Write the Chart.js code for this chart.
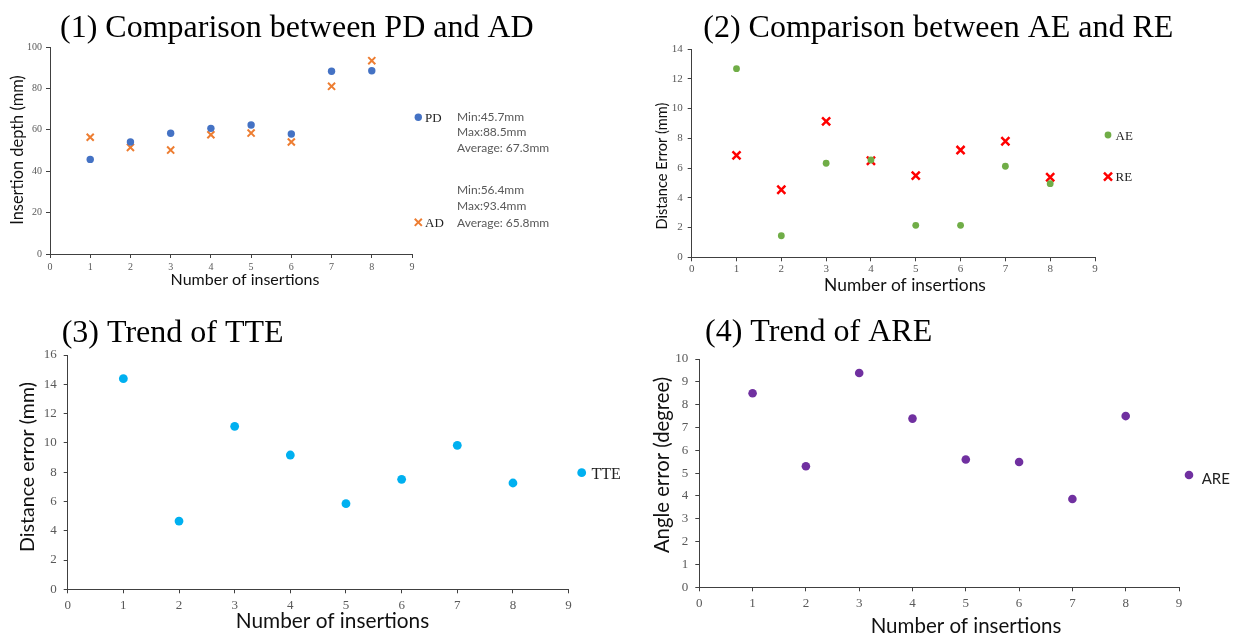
<!DOCTYPE html>
<html>
<head>
<meta charset="utf-8">
<script src="https://cdn.jsdelivr.net/npm/chart.js@4.4.0/dist/chart.umd.min.js"></script>
<style>
  html, body { margin: 0; padding: 0; background: #fff; }
  #wrap { position: relative; width: 1237px; height: 638px; overflow: hidden; }
  #wrap canvas { position: absolute; left: 0; top: 0; }
</style>
</head>
<body>
<div id="wrap">
  <canvas id="pdad" width="1237" height="638"></canvas>
  <canvas id="aere" width="1237" height="638"></canvas>
  <canvas id="tte" width="1237" height="638"></canvas>
  <canvas id="are" width="1237" height="638"></canvas>
</div>
<script>
// insertion number for every measurement
var insertions = [1, 2, 3, 4, 5, 6, 7, 8];

// (1) planned vs actual insertion depth, mm
var pdDepth = [45.7, 54.1, 58.3, 60.7, 62.3, 58.0, 88.3, 88.5];
var adDepth = [56.4, 51.5, 50.2, 57.6, 58.4, 54.1, 81.0, 93.4];
var pdStats = ['Min:45.7mm', 'Max:88.5mm', 'Average: 67.3mm'];
var adStats = ['Min:56.4mm', 'Max:93.4mm', 'Average: 65.8mm'];

// (2) AE and RE distance errors, mm
var aeError = [12.68, 1.45, 6.32, 6.54, 2.15, 2.15, 6.12, 4.95];
var reError = [6.85, 4.54, 9.14, 6.49, 5.49, 7.21, 7.80, 5.38];

// (3) TTE, mm   (4) ARE, degree
var tteError = [14.38, 4.66, 11.13, 9.17, 5.85, 7.51, 9.83, 7.26];
var areError = [8.50, 5.30, 9.39, 7.39, 5.60, 5.49, 3.87, 7.50];

// tick values
var insertionTicks = [0, 1, 2, 3, 4, 5, 6, 7, 8, 9];
var depthTicks = [0, 20, 40, 60, 80, 100];
var distTicks14 = [0, 2, 4, 6, 8, 10, 12, 14];
var distTicks16 = [0, 2, 4, 6, 8, 10, 12, 14, 16];
var angleTicks = [0, 1, 2, 3, 4, 5, 6, 7, 8, 9, 10];

var SERIF = 'Liberation Serif';
var SANS = 'Lato';

function points(ys) {
  return insertions.map(function (x, i) { return { x: x, y: ys[i] }; });
}

function axis(tickValues, horizontal, size, fontSize, pad) {
  return {
    type: 'linear',
    position: horizontal ? 'bottom' : 'left',
    min: tickValues[0],
    max: tickValues[tickValues.length - 1],
    afterBuildTicks: function (s) {
      s.ticks = tickValues.map(function (v) { return { value: v }; });
    },
    afterFit: function (s) {
      if (horizontal) s.height = size; else s.width = size;
    },
    ticks: { font: { family: SERIF, size: fontSize }, color: '#595959', padding: pad },
    grid: { drawOnChartArea: false, drawTicks: true, tickLength: 4, color: '#404040' },
    border: { color: '#404040', width: 1 }
  };
}

// text and legend markers drawn straight onto the canvas
function notes(items) {
  return {
    id: 'notes',
    afterDraw: function (chart) {
      var ctx = chart.ctx;
      items.forEach(function (it) {
        ctx.save();
        if (it.marker) {
          ctx.fillStyle = it.color;
          ctx.strokeStyle = it.color;
          ctx.lineWidth = it.borderWidth || 1;
          Chart.helpers.drawPoint(ctx, {
            pointStyle: it.marker, radius: it.radius,
            borderWidth: it.borderWidth || 0, rotation: 0
          }, it.x, it.y);
        } else {
          ctx.translate(it.x, it.y);
          if (it.rotate) ctx.rotate(it.rotate * Math.PI / 180);
          ctx.font = it.font;
          ctx.fillStyle = it.color || '#000';
          ctx.textAlign = it.align || 'left';
          ctx.textBaseline = it.baseline || 'alphabetic';
          ctx.fillText(it.text, 0, 0);
        }
        ctx.restore();
      });
    }
  };
}

function title(text, x, y) {
  return { text: text, x: x, y: y, font: '32px "' + SERIF + '"', color: '#000' };
}
function axisTitle(text, x, y, size, vertical) {
  return { text: text, x: x, y: y, font: size + 'px ' + SANS, color: '#111',
           align: 'center', baseline: 'middle', rotate: vertical ? -90 : 0 };
}
function statLines(lines, x, ys) {
  return lines.map(function (t, i) {
    return { text: t, x: x, y: ys[i], font: '12px ' + SANS, color: '#595959' };
  });
}

function scatter(id, datasets, pad, xAxis, yAxis, items) {
  return new Chart(document.getElementById(id), {
    type: 'scatter',
    data: { datasets: datasets },
    options: {
      responsive: false,
      animation: false,
      layout: { padding: pad },
      plugins: { legend: { display: false }, tooltip: { enabled: false } },
      scales: { x: xAxis, y: yAxis }
    },
    plugins: [notes(items)]
  });
}

// (1) Comparison between PD and AD
scatter('pdad', [
  { label: 'PD', data: points(pdDepth), pointStyle: 'circle', pointRadius: 3.7,
    backgroundColor: '#4472C4', borderColor: '#4472C4', borderWidth: 0 },
  { label: 'AD', data: points(adDepth), pointStyle: 'crossRot', pointRadius: 5,
    backgroundColor: '#ED7D31', borderColor: '#ED7D31', borderWidth: 2 }
], { left: 0, top: 47, right: 825, bottom: 354 },
  axis(insertionTicks, true, 30, 10, 3),
  axis(depthTicks, false, 50, 10, 4),
  [
    title('(1) Comparison between PD and AD', 60, 37.3),
    axisTitle('Insertion depth (mm)', 18, 150, 16.4, true),
    axisTitle('Number of insertions', 245, 280, 16, false),
    { marker: 'circle', x: 418.3, y: 117.3, radius: 3.7, color: '#4472C4' },
    { text: 'PD', x: 425, y: 122, font: '13px "' + SERIF + '"', color: '#222' },
    { marker: 'crossRot', x: 418.3, y: 222.3, radius: 5, borderWidth: 2, color: '#ED7D31' },
    { text: 'AD', x: 425, y: 226.7, font: '13px "' + SERIF + '"', color: '#222' }
  ].concat(statLines(pdStats, 457, [120.7, 136.2, 152.3]))
   .concat(statLines(adStats, 457, [194.3, 210.2, 226.7])));

// (2) Comparison between AE and RE
scatter('aere', [
  { label: 'AE', data: points(aeError), pointStyle: 'circle', pointRadius: 3.4,
    backgroundColor: '#70AD47', borderColor: '#70AD47', borderWidth: 0 },
  { label: 'RE', data: points(reError), pointStyle: 'crossRot', pointRadius: 5.7,
    backgroundColor: '#FF0000', borderColor: '#FF0000', borderWidth: 2.5 }
], { left: 640, top: 49, right: 142, bottom: 350.7 },
  axis(insertionTicks, true, 30, 11, 1.5),
  axis(distTicks14, false, 51.7, 11, 5),
  [
    title('(2) Comparison between AE and RE', 703.3, 37.3),
    axisTitle('Distance Error (mm)', 662, 166, 14.6, true),
    axisTitle('Number of insertions', 905, 285, 17.4, false),
    { marker: 'circle', x: 1108, y: 135, radius: 3.4, color: '#70AD47' },
    { text: 'AE', x: 1115.5, y: 139.5, font: '13px "' + SERIF + '"', color: '#222' },
    { marker: 'crossRot', x: 1108, y: 176.7, radius: 5.7, borderWidth: 2.5, color: '#FF0000' },
    { text: 'RE', x: 1115.5, y: 181, font: '13px "' + SERIF + '"', color: '#222' }
  ]);

// (3) Trend of TTE
scatter('tte', [
  { label: 'TTE', data: points(tteError), pointStyle: 'circle', pointRadius: 4.4,
    backgroundColor: '#00B0F0', borderColor: '#00B0F0', borderWidth: 0 }
], { left: 0, top: 355, right: 668.4, bottom: 8.7 },
  axis(insertionTicks, true, 40, 13, 4),
  axis(distTicks16, false, 67.7, 13, 7),
  [
    title('(3) Trend of TTE', 61.7, 341.7),
    axisTitle('Distance error (mm)', 28, 467, 19.6, true),
    axisTitle('Number of insertions', 332.5, 621, 20.8, false),
    { marker: 'circle', x: 581.7, y: 472.7, radius: 4.4, color: '#00B0F0' },
    { text: 'TTE', x: 591.5, y: 479, font: '16px "' + SERIF + '"', color: '#222' }
  ]);

// (4) Trend of ARE
scatter('are', [
  { label: 'ARE', data: points(areError), pointStyle: 'circle', pointRadius: 4.3,
    backgroundColor: '#7030A0', borderColor: '#7030A0', borderWidth: 0 }
], { left: 640, top: 359, right: 58, bottom: 10.7 },
  axis(insertionTicks, true, 40, 13, 4),
  axis(angleTicks, false, 59.3, 13, 7),
  [
    title('(4) Trend of ARE', 705, 341),
    axisTitle('Angle error (degree)', 662, 465, 20.3, true),
    axisTitle('Number of insertions', 966, 626, 20.5, false),
    { marker: 'circle', x: 1189, y: 475, radius: 4.3, color: '#7030A0' },
    { text: 'ARE', x: 1201.7, y: 484.3, font: '15px ' + SANS, color: '#222' }
  ]);
</script>
</body>
</html>
